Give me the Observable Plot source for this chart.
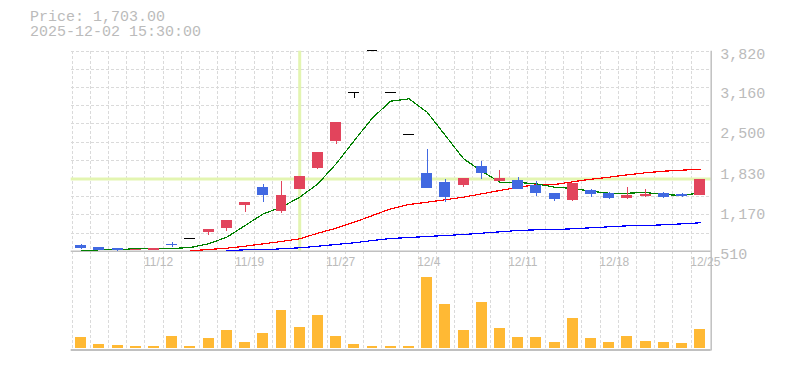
<!DOCTYPE html>
<html>
<head>
<meta charset="utf-8">
<script src="https://cdn.jsdelivr.net/npm/d3@7"></script>
<script src="https://cdn.jsdelivr.net/npm/@observablehq/plot@0.6"></script>
<style>
  body { margin: 0; background: #fff; }
  #wrap { position: relative; width: 785px; height: 370px; overflow: hidden; background: #fff; }
  #title { position: absolute; left: 30px; top: 11px; font: 15px "Liberation Mono", monospace; color: #bbb; line-height: 14.6px; white-space: pre; z-index: 2; }
  #price, #vol { position: absolute; left: 0; }
  #price { top: 0; }
  #vol { top: 270px; }
  svg { display: block; }
</style>
</head>
<body>
<div id="wrap"><div id="title"></div><div id="price"></div><div id="vol"></div></div>
<script>
// ---- data ----
const titleLines = ["Price: 1,703.00", "2025-12-02 15:30:00"];
const dateLabels = ["11/6","11/7","11/10","11/11","11/12","11/13","11/14","11/17","11/18","11/19","11/20","11/21","11/25","11/26","11/27","11/28","12/1","12/2","12/3","12/4","12/5","12/8","12/9","12/10","12/11","12/12","12/15","12/16","12/17","12/18","12/19","12/22","12/23","12/24","12/25"];
const opens  = [604,571,555,527,522,621,715,819,891,1266,1569,1167,1531,1879,2326,3131,3830,3131,2436,1796,1647,1597,1912,1664,1680,1592,1465,1349,1515,1465,1382,1420,1465,1448,1437];
const highs  = [621,571,555,543,555,654,715,869,1018,1316,1614,1664,1746,2144,2640,3131,3830,3131,2436,2193,1697,1713,1994,1846,1730,1664,1465,1635,1531,1482,1564,1531,1482,1465,1703];
const lows   = [538,515,512,527,522,576,715,770,836,1150,1316,1134,1531,1862,2281,3032,3830,3131,2436,1548,1316,1564,1697,1664,1531,1415,1333,1333,1399,1366,1366,1399,1382,1399,1437];
const closes = [560,522,517,543,555,609,715,869,1018,1316,1432,1432,1746,2144,2640,3131,3830,3131,2436,1548,1399,1713,1796,1713,1531,1465,1366,1635,1448,1382,1432,1448,1399,1420,1703];
const volumes = [110000,40000,30000,20000,20000,120000,20000,100000,180000,60000,150000,380000,210000,330000,120000,40000,20000,20000,20000,713000,440000,180000,460000,200000,110000,110000,60000,300000,100000,60000,120000,70000,60000,50000,190000];
const ma5  = [517,533,538,550,550,555,571,632,742,935,1129,1238,1404,1625,1956,2342,2718,2993,3032,2810,2425,2039,1834,1652,1647,1625,1569,1548,1503,1470,1470,1481,1448,1432,1477];
const ma25 = [null,null,null,null,null,null,517,538,560,593,632,671,715,808,891,990,1101,1212,1283,1321,1361,1404,1460,1515,1569,1609,1614,1659,1702,1735,1774,1808,1834,1851,1867];
const ma75 = [null,null,null,null,null,null,null,null,517,533,533,550,566,593,621,649,687,720,737,753,770,786,808,831,853,864,869,881,897,914,930,935,947,963,980];
const xTickLabels = ["11/12","11/19","11/27","12/4","12/11","12/18","12/25"];
const priceTicks = [510,1170,1830,2500,3160,3820];
const priceTickLabels = ["510","1,170","1,830","2,500","3,160","3,820"];
const crossDate = "11/25";
const crossPrice = 1703;

// ---- styles ----
const UP = "#e2445c", DOWN = "#4169e1", DOJI = "#000";
const GRID = "#dadada", AXIS = "#c0c0c0", LABEL = "#bbb", CROSS = "#e3f5b1";
const VOL = "#ffb934";

document.getElementById("title").textContent = titleLines.join("\n");

const candles = dateLabels.map((d, i) => ({i, d, o: opens[i], h: highs[i], l: lows[i], c: closes[i], v: volumes[i]}));
const candleColor = d => d.c > d.o ? UP : d.c < d.o ? DOWN : DOJI;
const xDomain = [-0.55, 34.6];
const yDomain = [priceTicks[0], priceTicks[priceTicks.length - 1]];
const half = 0.3;
const vGrid = candles.map(d => d.i - 0.5);
const hGrid = d3.range(1, 12).map(k => yDomain[0] + k * (yDomain[1] - yDomain[0]) / 11);
const line = (arr) => arr.map((v, i) => ({i, v}));

const common = {
  width: 785,
  marginLeft: 70.7,
  marginRight: 74.3,
  x: {domain: xDomain, axis: null},
  color: {type: "identity"},
  style: {background: "transparent", overflow: "visible"}
};

const price = Plot.plot({
  ...common,
  height: 270,
  marginTop: 50.7,
  marginBottom: 19.3,
  y: {domain: yDomain, axis: null},
  marks: [
    Plot.gridX(vGrid, {stroke: GRID, strokeOpacity: 1, strokeDasharray: "3,2", insetBottom: -19.3, shapeRendering: "crispEdges"}),
    Plot.gridY(hGrid, {stroke: GRID, strokeOpacity: 1, strokeDasharray: "3,2", shapeRendering: "crispEdges"}),
    Plot.ruleX([dateLabels.indexOf(crossDate)], {stroke: CROSS, strokeWidth: 3}),
    Plot.ruleY([crossPrice], {stroke: CROSS, strokeWidth: 3}),
    Plot.ruleY([yDomain[0]], {stroke: AXIS, strokeWidth: 1.5}),
    Plot.ruleX([xDomain[1]], {stroke: AXIS, strokeWidth: 1.5, insetBottom: -19.3}),
    Plot.line(line(ma75), {x: "i", y: "v", stroke: "#0000ff", strokeWidth: 1.2, shapeRendering: "crispEdges"}),
    Plot.line(line(ma25), {x: "i", y: "v", stroke: "#ff0000", strokeWidth: 1.2, shapeRendering: "crispEdges"}),
    Plot.line(line(ma5), {x: "i", y: "v", stroke: "#008000", strokeWidth: 1.2, shapeRendering: "crispEdges"}),
    Plot.ruleX(candles, {x: "i", y1: "l", y2: "h", stroke: candleColor, strokeWidth: 1, shapeRendering: "crispEdges"}),
    Plot.rect(candles.filter(d => d.o !== d.c), {x1: d => d.i - half, x2: d => d.i + half, y1: "o", y2: "c", fill: candleColor, shapeRendering: "crispEdges"}),
    Plot.ruleY(candles.filter(d => d.o === d.c), {y: "c", x1: d => d.i - half, x2: d => d.i + half, stroke: DOJI, strokeWidth: 1.2, shapeRendering: "crispEdges"}),
    Plot.text(xTickLabels, {x: d => dateLabels.indexOf(d), y: yDomain[0], text: d => d, textAnchor: "start", lineAnchor: "top", dx: -10, dy: 6, fill: LABEL, fontFamily: "Liberation Sans", fontSize: 12}),
    Plot.text(priceTicks, {x: xDomain[1], y: d => d, text: (d, i) => priceTickLabels[i], textAnchor: "start", lineAnchor: "middle", dx: 9, dy: 2.5, fill: LABEL, fontFamily: "Liberation Mono", fontSize: 15})
  ]
});
document.getElementById("price").append(price);

const volMax = 780000;
const vol = Plot.plot({
  ...common,
  height: 100,
  marginTop: 0,
  marginBottom: 22,
  y: {domain: [0, volMax], axis: null},
  marks: [
    Plot.gridX(vGrid, {stroke: GRID, strokeOpacity: 1, strokeDasharray: "3,2", insetBottom: -1.5, shapeRendering: "crispEdges"}),
    Plot.rectY(candles, {x1: d => d.i - half, x2: d => d.i + half, y1: 0, y2: "v", fill: VOL, shapeRendering: "crispEdges"}),
    Plot.ruleY([0], {stroke: AXIS, strokeWidth: 2, dy: 1.5}),
    Plot.ruleX([xDomain[1]], {stroke: AXIS, strokeWidth: 1.5, insetBottom: -2.5})
  ]
});
document.getElementById("vol").append(vol);
</script>
</body>
</html>
